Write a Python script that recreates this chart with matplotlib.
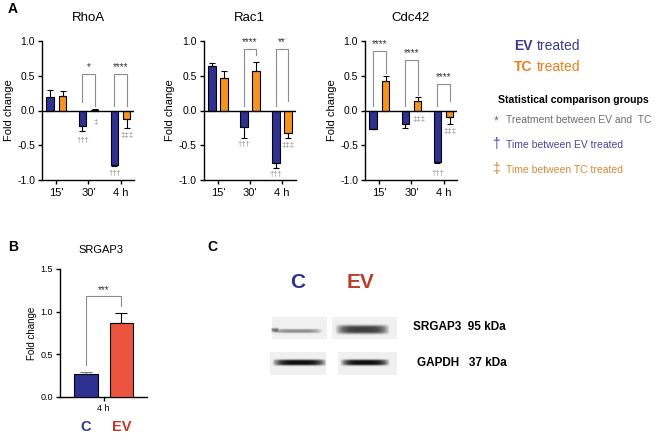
import numpy as np
import matplotlib.pyplot as plt
from matplotlib.patches import Rectangle

plt.rcParams['font.family'] = ['Liberation Sans', 'DejaVu Sans']

W, H = 669, 433

# ---- data ----
genes = ['RhoA', 'Rac1', 'Cdc42']
times = ["15'", "30'", "4 h"]

ev_means = [[0.19, -0.22, -0.79], [0.64, -0.24, -0.76], [-0.26, -0.20, -0.74]]
ev_errs = [[0.10, 0.07, 0.01], [0.05, 0.15, 0.07], [0.01, 0.05, 0.01]]
tc_means = [[0.21, 0.01, -0.12], [0.47, 0.57, -0.32], [0.43, 0.13, -0.10]]
tc_errs = [[0.07, 0.01, 0.13], [0.10, 0.13, 0.07], [0.06, 0.06, 0.10]]

# significance brackets: (group, top, left leg end, right leg end, stars)
brackets = [
    [(1, 0.52, 0.12, 0.07, '*'), (2, 0.52, 0.07, 0.07, '****')],
    [(1, 0.88, 0.06, 0.80, '****'), (2, 0.88, 0.06, 0.13, '**')],
    [(0, 0.86, 0.06, 0.54, '****'), (1, 0.72, 0.06, 0.23, '****'), (2, 0.38, 0.06, 0.13, '****')],
]
# dagger marks: (x in data, y, text)
daggers = [
    [(0.81, -0.43, '†††'), (1.23, -0.17, '‡'), (1.81, -0.90, '†††'), (2.19, -0.36, '‡‡‡')],
    [(0.81, -0.49, '†††'), (1.81, -0.92, '†††'), (2.19, -0.51, '‡‡‡')],
    [(1.24, -0.13, '‡‡‡'), (1.81, -0.90, '†††'), (2.19, -0.30, '‡‡‡')],
]

b_groups = ['C', 'EV']
b_means = [0.27, 0.87]
b_errs = [0.02, 0.11]

# western blot band intensities (C, EV)
srgap3_band = [0.6, 0.95]
gapdh_band = [1.0, 1.0]

blue = '#2e3192'
orange = '#f7941d'
red = '#ec5440'
grey = '#8a8a8a'

fig = plt.figure(figsize=(W / 100, H / 100), dpi=100)


def px_axes(l, t, r, b):
    return fig.add_axes([l / W, 1 - b / H, (r - l) / W, (b - t) / H])


def ftext(x, y, s, **kw):
    kw.setdefault('va', 'center')
    return fig.text(x / W, 1 - y / H, s, **kw)


def style(ax):
    for s in ['top', 'right']:
        ax.spines[s].set_visible(False)
    for s in ['left', 'bottom']:
        ax.spines[s].set_linewidth(1.0)
    ax.tick_params(width=1.0, length=3, labelsize=7.5, pad=2)


# ---- panel A ----
lefts = [42, 203.5, 365]
x = np.arange(3)
off, bw = 0.19, 0.24
for i, g in enumerate(genes):
    ax = px_axes(lefts[i], 41, lefts[i] + 92, 180)
    style(ax)
    ev = np.array(ev_means[i])
    tc = np.array(tc_means[i])
    ee = np.array(ev_errs[i])
    te = np.array(tc_errs[i])
    ev_yerr = [np.where(ev < 0, ee, 0), np.where(ev >= 0, ee, 0)]
    tc_yerr = [np.where(tc < 0, te, 0), np.where(tc >= 0, te, 0)]
    ax.bar(x - off, ev, bw, color=blue, edgecolor='black', linewidth=0.8, zorder=3,
           yerr=ev_yerr, error_kw=dict(lw=0.8, capsize=2.2, capthick=0.8, ecolor='black'))
    ax.bar(x + off, tc, bw, color=orange, edgecolor='black', linewidth=0.8, zorder=3,
           yerr=tc_yerr, error_kw=dict(lw=0.8, capsize=2.2, capthick=0.8, ecolor='black'))
    ax.axhline(0, color='black', lw=1.0, zorder=4)
    ax.set_ylim(-1, 1)
    ax.set_xlim(-0.45, 2.42)
    ax.set_yticks([-1, -0.5, 0, 0.5, 1])
    ax.set_yticklabels(['-1.0', '-0.5', '0.0', '0.5', '1.0'])
    ax.set_xticks(x)
    ax.set_xticklabels(times, fontsize=8)
    ax.tick_params(axis='x', pad=3)
    for gx, top, lb, rb, st in brackets[i]:
        ax.plot([gx - off, gx - off, gx + off, gx + off], [lb, top, top, rb],
                color='#8c8c8c', lw=0.8, zorder=2)
        ax.text(gx, top + 0.03, st, ha='center', va='bottom', fontsize=7,
                color='#333333')
    for dx, dy, s in daggers[i]:
        ax.text(dx, dy, s, ha='center', va='center', fontsize=5.5, color=grey)
    ftext(lefts[i] + 46, 18, g, ha='center', fontsize=9.5)
    ftext(lefts[i] - 33, 110, 'Fold change', ha='center', rotation=90, fontsize=8)

ftext(8, 9, 'A', fontweight='bold', fontsize=10)

# legend text
ftext(514, 46, 'EV', fontweight='bold', fontsize=10, color='#3a3a8f')
ftext(537, 46, 'treated', fontsize=10, color='#3a3a8f')
ftext(514, 67, 'TC', fontweight='bold', fontsize=10, color='#f07d1a')
ftext(537, 67, 'treated', fontsize=10, color='#f07d1a')
ftext(498, 100, 'Statistical comparison groups', fontweight='bold', fontsize=7.6)
ftext(496, 121, '*', fontsize=9, color='#6d6d6d', ha='center')
ftext(506, 120, 'Treatment between EV and  TC', fontsize=7.5, color='#6d6d6d')
ftext(496, 144, '†', fontsize=10, color='#4646a0', ha='center')
ftext(506, 145, 'Time between EV treated', fontsize=7.5, color='#4646a0')
ftext(496, 169, '‡', fontsize=10, color='#d4893a', ha='center')
ftext(506, 170, 'Time between TC treated', fontsize=7.5, color='#d4893a')

# ---- panel B ----
axb = px_axes(60, 269, 147, 397)
style(axb)
bx = np.arange(2)
axb.bar(bx, b_means, 0.67, color=[blue, red], edgecolor='black', linewidth=0.8, zorder=3)
axb.errorbar(bx[:1], b_means[:1], yerr=[[0], b_errs[:1]], fmt='none', ecolor='#777777',
             elinewidth=0.8, capsize=4, capthick=0.8, zorder=2)
axb.errorbar(bx[1:], b_means[1:], yerr=[[0], b_errs[1:]], fmt='none', ecolor='black',
             elinewidth=0.8, capsize=4, capthick=0.8, zorder=2)
axb.plot([0, 0, 1, 1], [0.37, 1.18, 1.18, 1.07], color='#8c8c8c', lw=0.8)
axb.text(0.5, 1.20, '***', ha='center', va='bottom', fontsize=7, color='#333333')
axb.set_ylim(0, 1.5)
axb.set_xlim(-0.73, 1.72)
axb.set_yticks([0, 0.5, 1.0, 1.5])
axb.set_yticklabels(['0.0', '0.5', '1.0', '1.5'])
axb.tick_params(labelsize=6.5)
axb.set_xticks([0.5])
axb.set_xticklabels(['4 h'])
ftext(101, 250, 'SRGAP3', ha='center', fontsize=8)
ftext(32, 333, 'Fold change', ha='center', rotation=90, fontsize=7)
ftext(86, 427, b_groups[0], ha='center', fontweight='bold', fontsize=10.5, color=blue)
ftext(122, 427, b_groups[1], ha='center', fontweight='bold', fontsize=10.5, color='#c0392b')
ftext(8, 247, 'B', fontweight='bold', fontsize=10)

# ---- panel C: blot ----
ftext(207, 247, 'C', fontweight='bold', fontsize=10)
ov = fig.add_axes([0, 0, 1, 1], zorder=-1)
ov.axis('off')

boxes = [(272, 317, 327, 339), (332, 317, 397, 339), (270, 352, 326, 375), (338, 352, 397, 375)]
for l, t, r, b in boxes:
    ov.add_patch(Rectangle((l, t), r - l, b - t, facecolor='#f0f0f0', edgecolor='none',
                           zorder=1))


def band(l, r, yc, h, dark, shade=0.1):
    nx, ny = 120, 40
    xs = np.linspace(-1, 1, nx)
    ys = np.linspace(-1, 1, ny)
    prof_x = np.clip(1 - np.abs(xs) ** 4, 0, 1)
    prof_y = np.exp(-(ys * 1.5) ** 4)
    a = np.outer(prof_y, prof_x) * dark
    img = np.zeros((ny, nx, 4))
    img[..., :3] = shade
    img[..., 3] = a
    ov.imshow(img, extent=(l, r, yc + h, yc - h), aspect='auto', interpolation='bilinear',
              zorder=3)


band(272, 323, 331, 2.6, srgap3_band[0], shade=0.3)
band(271, 279, 330, 2.6, srgap3_band[0], shade=0.2)
band(335, 390, 330, 6.5, srgap3_band[1], shade=0.2)
band(272, 327, 363, 4.5, gapdh_band[0], shade=0.05)
band(340, 390, 363, 4.2, gapdh_band[1], shade=0.05)
ov.set_xlim(0, W)
ov.set_ylim(H, 0)

ftext(298, 283, 'C', ha='center', fontweight='bold', fontsize=15, color=blue)
ftext(360, 283, 'EV', ha='center', fontweight='bold', fontsize=15, color='#b5402e')
ftext(413, 327, 'SRGAP3  95 kDa', fontweight='bold', fontsize=8.5)
ftext(417, 363, 'GAPDH   37 kDa', fontweight='bold', fontsize=8.5)

fig.savefig('out.png', dpi=100)
